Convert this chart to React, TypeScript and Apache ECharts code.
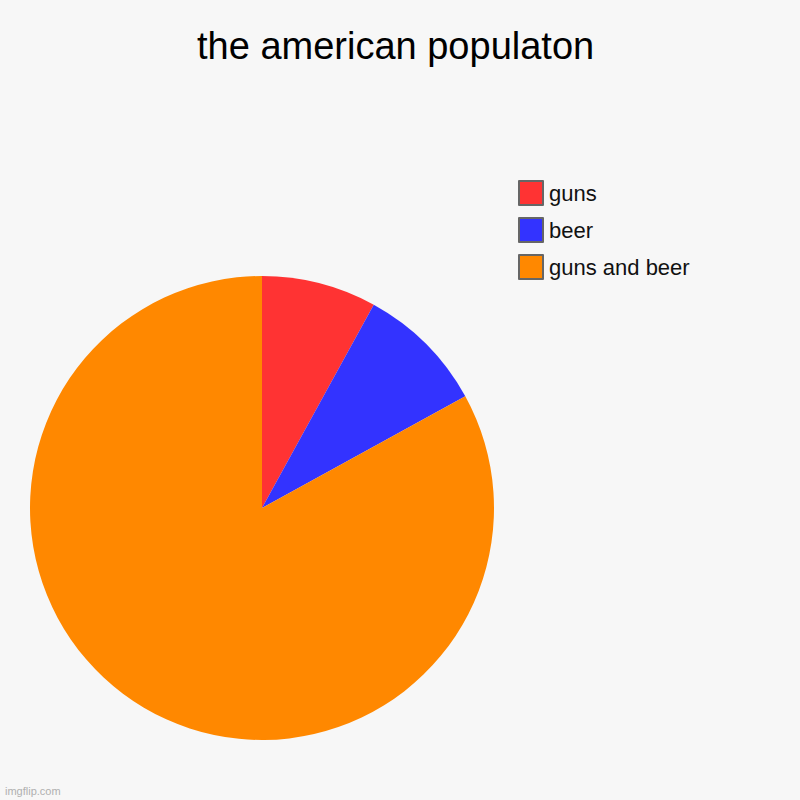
import React, { useEffect, useRef } from 'react';
import * as echarts from 'echarts';

const titleText = 'the american populaton';
const categories = ['guns', 'beer', 'guns and beer'];
const values = [8, 9, 83];
const colors = ['#ff3333', '#3333ff', '#ff8800'];

const App: React.FC = () => {
    const chartRef = useRef<HTMLDivElement>(null);

    useEffect(() => {
        document.body.style.margin = '0';
        if (!chartRef.current) return;

        const chart = echarts.init(chartRef.current, null, { renderer: 'svg' });

        const option = {
            animation: false,
            backgroundColor: '#f7f7f7',
            title: {
                text: titleText,
                left: 192,
                top: 22,
                textStyle: {
                    fontFamily: 'Liberation Sans',
                    fontSize: 38,
                    fontWeight: 'normal',
                    color: '#000'
                }
            },
            legend: {
                orient: 'vertical',
                left: 518,
                top: 180,
                padding: 0,
                icon: 'rect',
                itemWidth: 24,
                itemHeight: 24,
                itemGap: 11,
                itemStyle: { borderColor: '#666', borderWidth: 2 },
                textStyle: {
                    fontFamily: 'Liberation Sans',
                    fontSize: 22,
                    color: '#111',
                    padding: [0, 0, 0, 1]
                },
                data: categories
            },
            graphic: [
                {
                    type: 'text',
                    left: 5,
                    top: 785,
                    style: {
                        text: 'imgflip.com',
                        fill: '#b0b0b0',
                        font: '11px "Liberation Sans"'
                    }
                }
            ],
            series: [
                {
                    type: 'pie',
                    center: [262, 508],
                    radius: 232,
                    startAngle: 90,
                    clockwise: true,
                    label: { show: false },
                    labelLine: { show: false },
                    emphasis: { disabled: true },
                    data: categories.map((name, i) => ({
                        name,
                        value: values[i],
                        itemStyle: { color: colors[i] }
                    }))
                }
            ]
        };

        chart.setOption(option);

        return () => {
            chart.dispose();
        };
    }, []);

    return <div ref={chartRef} style={{ width: 800, height: 800 }} />;
};

export default App;
